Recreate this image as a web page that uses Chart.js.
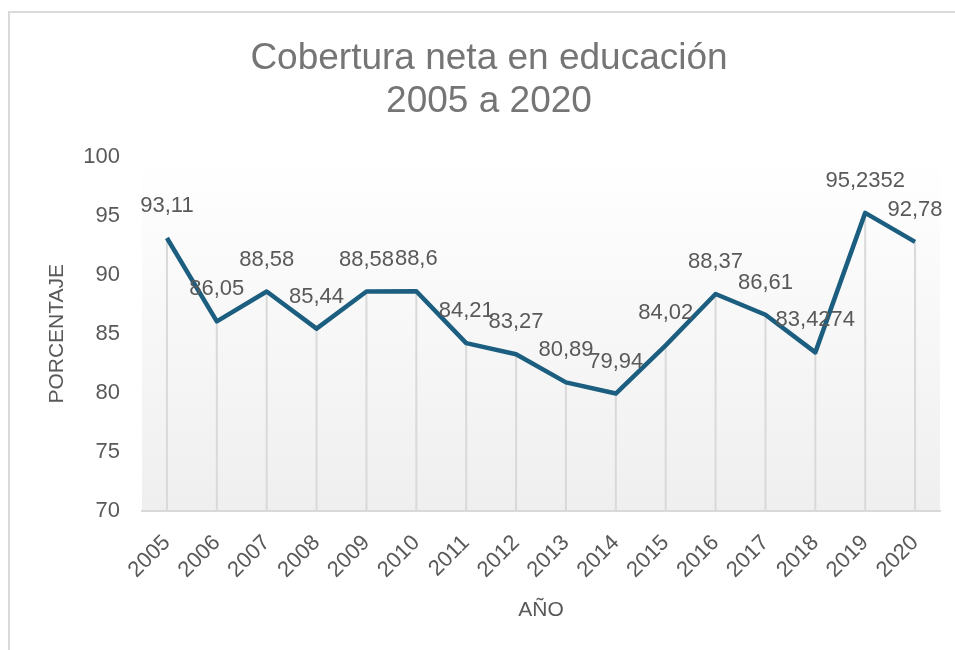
<!DOCTYPE html>
<html>
<head>
<meta charset="utf-8">
<script src="https://cdn.jsdelivr.net/npm/chart.js@4"></script>
<style>
  body { margin: 0; background: #fff; overflow: hidden; }
  #frame { position: absolute; left: 8px; top: 11px; width: 2000px; height: 2000px;
           border-left: 2px solid #d9d9d9; border-top: 2px solid #d9d9d9; }
  #chart { position: absolute; left: 0; top: 0; }
</style>
</head>
<body>
<div id="frame"></div>
<canvas id="chart" width="955" height="650"></canvas>
<script>
// data
const years = ['2005', '2006', '2007', '2008', '2009', '2010', '2011', '2012',
               '2013', '2014', '2015', '2016', '2017', '2018', '2019', '2020'];
const cobertura = [93.11, 86.05, 88.58, 85.44, 88.58, 88.6, 84.21, 83.27,
                   80.89, 79.94, 84.02, 88.37, 86.61, 83.4274, 95.2352, 92.78];
const titleLines = ['Cobertura neta en educación', '2005 a 2020'];
const yMin = 70, yMax = 100, yStep = 5;

const FONT = "'Liberation Sans', Arial, sans-serif";

// plot area background (white -> light grey)
const plotBackground = {
    id: 'plotBackground',
    beforeDraw(chart) {
        const { ctx, chartArea: a } = chart;
        const g = ctx.createLinearGradient(0, a.top, 0, a.bottom);
        g.addColorStop(0, '#ffffff');
        g.addColorStop(1, '#efefef');
        ctx.save();
        ctx.fillStyle = g;
        ctx.fillRect(a.left, a.top, a.right - a.left, a.bottom - a.top);
        ctx.restore();
    }
};

// vertical drop lines from each point down to the axis
const dropLines = {
    id: 'dropLines',
    beforeDatasetsDraw(chart) {
        const { ctx, chartArea: a } = chart;
        const meta = chart.getDatasetMeta(0);
        ctx.save();
        ctx.strokeStyle = '#d9d9d9';
        ctx.lineWidth = 2;
        meta.data.forEach(p => {
            ctx.beginPath();
            ctx.moveTo(p.x, p.y);
            ctx.lineTo(p.x, a.bottom);
            ctx.stroke();
        });
        ctx.restore();
    }
};

// value labels above the points, decimal comma
const valueLabels = {
    id: 'valueLabels',
    afterDatasetsDraw(chart) {
        const { ctx } = chart;
        const meta = chart.getDatasetMeta(0);
        ctx.save();
        ctx.font = '22px ' + FONT;
        ctx.fillStyle = '#595959';
        ctx.textAlign = 'center';
        ctx.textBaseline = 'middle';
        meta.data.forEach((p, i) => {
            const txt = String(cobertura[i]).replace('.', ',');
            ctx.fillText(txt, p.x, p.y - 32);
        });
        ctx.restore();
    }
};

new Chart(document.getElementById('chart'), {
    type: 'line',
    data: {
        labels: years,
        datasets: [{
            data: cobertura,
            borderColor: '#1b5e80',
            borderWidth: 4.5,
            borderJoinStyle: 'round',
            pointRadius: 0,
            pointHoverRadius: 0,
            tension: 0
        }]
    },
    options: {
        responsive: false,
        devicePixelRatio: 1,
        animation: false,
        layout: { padding: { left: 38, right: 15, top: 0, bottom: 0 } },
        plugins: {
            legend: { display: false },
            tooltip: { enabled: false },
            title: {
                display: true,
                text: titleLines,
                color: '#757575',
                font: { family: FONT, size: 37, weight: 'normal', lineHeight: 1.17 },
                padding: { top: 37, bottom: 33 }
            }
        },
        scales: {
            x: {
                offset: true,
                grid: { display: false },
                border: { display: true, color: '#d9d9d9', width: 2 },
                ticks: {
                    color: '#595959',
                    font: { family: FONT, size: 22 },
                    maxRotation: 45,
                    minRotation: 45,
                    padding: 11
                },
                title: {
                    display: true,
                    text: 'AÑO',
                    color: '#595959',
                    font: { family: FONT, size: 21, lineHeight: 1.2 },
                    padding: { top: 0, bottom: 27 }
                },
                afterFit(scale) { scale.height = 139; }
            },
            y: {
                min: yMin,
                max: yMax,
                grid: { display: false },
                border: { display: false },
                ticks: {
                    stepSize: yStep,
                    color: '#595959',
                    font: { family: FONT, size: 22 },
                    padding: 14
                },
                title: {
                    display: true,
                    text: 'PORCENTAJE',
                    color: '#595959',
                    font: { family: FONT, size: 21, lineHeight: 1.2 },
                    padding: { top: 7, bottom: 0 }
                },
                afterFit(scale) { scale.width = 104; }
            }
        }
    },
    plugins: [plotBackground, dropLines, valueLabels]
});
</script>
</body>
</html>
